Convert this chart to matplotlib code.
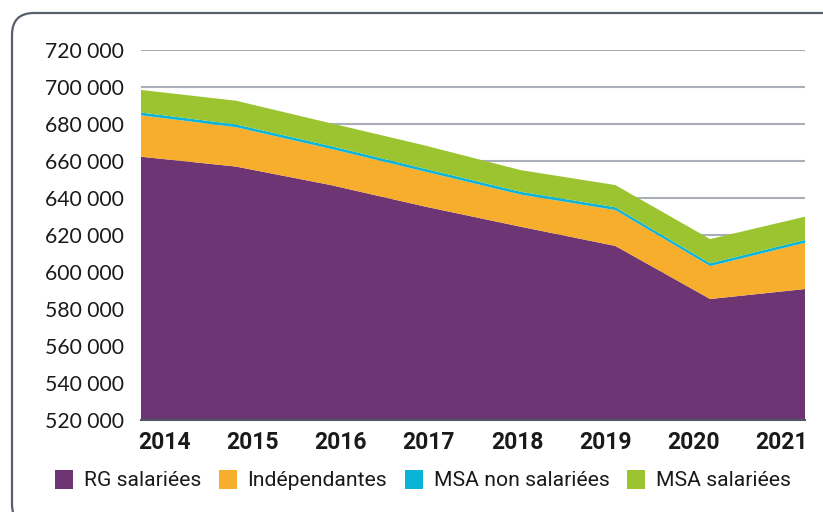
import numpy as np
import matplotlib
matplotlib.use('Agg')
import matplotlib.pyplot as plt
from matplotlib.patches import FancyBboxPatch, Patch
from matplotlib.transforms import IdentityTransform
from matplotlib.ticker import FuncFormatter

# data
years = [2014, 2015, 2016, 2017, 2018, 2019, 2020, 2021]
rg_salariees = [662300, 657000, 647000, 635300, 624500, 614100, 585400, 590800]
independantes = [22400, 21300, 19600, 18900, 17400, 19400, 17800, 25000]
msa_non_salariees = [1500, 1500, 1500, 1500, 1500, 1500, 1500, 1500]
msa_salariees = [12200, 12800, 12300, 12600, 11700, 12000, 13100, 12600]

labels = ['RG salariées', 'Indépendantes', 'MSA non salariées', 'MSA salariées']
colors = ['#6d3574', '#f7ae2d', '#0ab4d8', '#9bc430']

fig = plt.figure(figsize=(8.23, 5.12), dpi=100)
ax = fig.add_axes([141 / 823, 1 - 420 / 512, 664 / 823, 370 / 512])

ax.stackplot(years, rg_salariees, independantes, msa_non_salariees, msa_salariees,
             colors=colors, baseline='zero', zorder=2)

ax.set_xlim(years[0], years[-1])
ax.set_ylim(520000, 720000)
ax.set_yticks(np.arange(520000, 720001, 20000))
ax.yaxis.set_major_formatter(FuncFormatter(lambda v, p: f'{int(v):,}'.replace(',', ' ')))
ax.grid(axis='y', color='#a9aeb9', linewidth=1.5, zorder=1)
ax.set_axisbelow(True)

# the year labels sit evenly spaced, slightly inset from the data points
ax.set_xticks(np.linspace(years[0] + 0.25, years[-1] - 0.25, len(years)))
ax.set_xticklabels([str(y) for y in years], fontfamily='Roboto', fontweight='bold',
                   fontsize=16.5, color='#1a1a1a')
for t in ax.get_yticklabels():
    t.set_fontfamily('Lato')
    t.set_fontsize(15.2)
    t.set_color('#1a1a1a')
ax.tick_params(axis='both', length=0)
ax.tick_params(axis='y', pad=12)
ax.tick_params(axis='x', pad=8)

for s in ['top', 'right', 'left']:
    ax.spines[s].set_visible(False)
ax.spines['bottom'].set_color('#505866')
ax.spines['bottom'].set_linewidth(1.5)
ax.spines['bottom'].set_zorder(3)

handles = [Patch(facecolor=c, edgecolor='none') for c in colors]
fig.legend(handles, labels, loc='center', bbox_to_anchor=(423 / 823, 1 - 480 / 512),
           ncol=4, frameon=False, prop={'family': 'Roboto', 'size': 15.2},
           handlelength=0.85, handleheight=1.0, handletextpad=0.5,
           columnspacing=0.85, labelcolor='#1a1a1a')

frame = FancyBboxPatch((12, -14), 840, 513, boxstyle='round,pad=0,rounding_size=22',
                       transform=IdentityTransform(), facecolor='none',
                       edgecolor='#565e6c', linewidth=1.6)
fig.add_artist(frame)

fig.savefig('out.png', dpi=100)
